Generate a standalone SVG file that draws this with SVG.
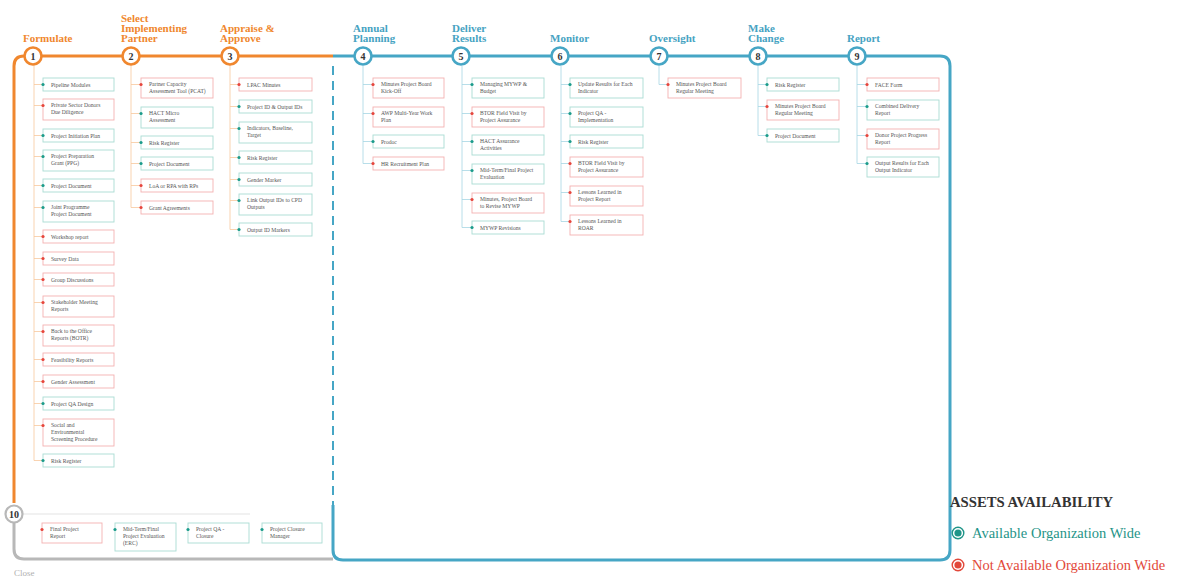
<svg xmlns="http://www.w3.org/2000/svg" width="1198" height="578" viewBox="0 0 1198 578">
  <style>
    .bg { fill: #ffffff; }
    .bt rect, .br rect { fill: #ffffff; stroke-width: 0.9; }
    .bt rect { stroke: #a9dbd3; }
    .br rect { stroke: #f3b1b1; }
    .bt circle { fill: #1b9b8b; }
    .br circle { fill: #e6453c; }
    .bt text, .br text { font-family: "Liberation Serif", serif; font-size: 5.6px; fill: #555555; }
    .stage { font-family: "Liberation Serif", serif; font-size: 11px; font-weight: bold; }
    .so { fill: #f0872e; }
    .st { fill: #46a3c2; }
    .node-o circle { fill: #ffffff; stroke: #f0872e; stroke-width: 2.6; }
    .node-t circle { fill: #ffffff; stroke: #46a6c5; stroke-width: 2.6; }
    .node-g circle { fill: #ffffff; stroke: #b8b8b8; stroke-width: 2.2; }
    .num { font-family: "Liberation Serif", serif; font-size: 10px; font-weight: bold; fill: #333333; text-anchor: middle; }
    .tree-o { fill: none; stroke: #f7c89d; stroke-width: 0.8; }
    .tree-t { fill: none; stroke: #a6d5e3; stroke-width: 0.8; }
    .legend-title { font-family: "Liberation Serif", serif; font-size: 14.7px; font-weight: bold; fill: #333333; }
    .legend-a { font-family: "Liberation Serif", serif; font-size: 14.5px; fill: #1f9488; }
    .legend-n { font-family: "Liberation Serif", serif; font-size: 14.5px; fill: #e2483a; }
  </style>

  <rect class="bg" x="0" y="0" width="1198" height="578"/>

  <!-- timeline rails and branch lines -->
  <g id="connectors">
    <path d="M14,503 V66 Q14,56 24,56 H333" fill="none" stroke="#f0872e" stroke-width="3"/>
    <path d="M333,56 H940 Q950,56 950,66 V550 Q950,560 940,560 H343 Q333,560 333,550 V505" fill="none" stroke="#46a6c5" stroke-width="3"/>
    <path d="M333,66 V505" fill="none" stroke="#46a6c5" stroke-width="2" stroke-dasharray="9 6"/>
    <path d="M14,522 V549 Q14,559 24,559 H333" fill="none" stroke="#b8b8b8" stroke-width="3"/>
    <path d="M23,514 H250" fill="none" stroke="#e3e3e3" stroke-width="1"/>

    <!-- stage 1 -->
    <path class="tree-o" d="M34,65 V460.5 M34,84.5 H43 M34,105.5 H43 M34,135.5 H43 M34,156.5 H43 M34,185.5 H43 M34,207.5 H43 M34,236.5 H43 M34,258.5 H43 M34,279.5 H43 M34,302.5 H43 M34,331.5 H43 M34,359.5 H43 M34,381.5 H43 M34,403.5 H43 M34,425.5 H43 M34,460.5 H43"/>
    <!-- stage 2 -->
    <path class="tree-o" d="M131,65 V207.5 M131,84.5 H141 M131,113.5 H141 M131,142.5 H141 M131,163.5 H141 M131,185.5 H141 M131,207.5 H141"/>
    <!-- stage 3 -->
    <path class="tree-o" d="M230,65 V229.5 M230,84.5 H239 M230,106.5 H239 M230,128.5 H239 M230,157.5 H239 M230,179.5 H239 M230,200.5 H239 M230,229.5 H239"/>
    <!-- stage 4 -->
    <path class="tree-t" d="M363,66 V163.5 M363,84.5 H373 M363,113.5 H373 M363,141.5 H373 M363,163.5 H373"/>
    <!-- stage 5 -->
    <path class="tree-t" d="M462,66 V227.5 M462,84.5 H472 M462,113.5 H472 M462,141.5 H472 M462,170.5 H472 M462,199.5 H472 M462,227.5 H472"/>
    <!-- stage 6 -->
    <path class="tree-t" d="M561,66 V221.5 M561,84.5 H570 M561,113.5 H570 M561,141.5 H570 M561,163.5 H570 M561,192.5 H570 M561,221.5 H570"/>
    <!-- stage 7 -->
    <path class="tree-t" d="M659,66 V84.5 H668"/>
    <!-- stage 8 -->
    <path class="tree-t" d="M758,66 V135.5 M758,84.5 H767 M758,106.5 H767 M758,135.5 H767"/>
    <!-- stage 9 -->
    <path class="tree-t" d="M857,66 V163.5 M857,84.5 H867 M857,106.5 H867 M857,135.5 H867 M857,163.5 H867"/>
  </g>

  <!-- stage headings -->
  <g id="headings">
    <text class="stage so" x="23" y="42">Formulate</text>
    <text class="stage so" x="121" y="22">Select</text>
    <text class="stage so" x="121" y="32">Implementing</text>
    <text class="stage so" x="121" y="42">Partner</text>
    <text class="stage so" x="220" y="32">Appraise &amp;</text>
    <text class="stage so" x="220" y="42">Approve</text>
    <text class="stage st" x="353" y="32">Annual</text>
    <text class="stage st" x="353" y="42">Planning</text>
    <text class="stage st" x="452" y="32">Deliver</text>
    <text class="stage st" x="452" y="42">Results</text>
    <text class="stage st" x="550" y="42">Monitor</text>
    <text class="stage st" x="649" y="42">Oversight</text>
    <text class="stage st" x="748" y="32">Make</text>
    <text class="stage st" x="748" y="42">Change</text>
    <text class="stage st" x="847" y="42">Report</text>
    <text x="14" y="576" font-family="Liberation Serif, serif" font-size="9" fill="#b0b0b0">Close</text>
  </g>

  <!-- stage markers -->
  <g id="stage-1" class="node-o"><circle cx="33" cy="56" r="8.5"/><text class="num" x="33" y="59.5">1</text></g>
  <g id="stage-2" class="node-o"><circle cx="131" cy="56" r="8.5"/><text class="num" x="131" y="59.5">2</text></g>
  <g id="stage-3" class="node-o"><circle cx="230" cy="56" r="8.5"/><text class="num" x="230" y="59.5">3</text></g>
  <g id="stage-4" class="node-t"><circle cx="363" cy="56" r="8.5"/><text class="num" x="363" y="59.5">4</text></g>
  <g id="stage-5" class="node-t"><circle cx="461" cy="56" r="8.5"/><text class="num" x="461" y="59.5">5</text></g>
  <g id="stage-6" class="node-t"><circle cx="560" cy="56" r="8.5"/><text class="num" x="560" y="59.5">6</text></g>
  <g id="stage-7" class="node-t"><circle cx="659" cy="56" r="8.5"/><text class="num" x="659" y="59.5">7</text></g>
  <g id="stage-8" class="node-t"><circle cx="758" cy="56" r="8.5"/><text class="num" x="758" y="59.5">8</text></g>
  <g id="stage-9" class="node-t"><circle cx="857" cy="56" r="8.5"/><text class="num" x="857" y="59.5">9</text></g>
  <g id="stage-10" class="node-g"><circle cx="14" cy="514" r="8.5"/><text class="num" x="14" y="517.5">10</text></g>

  <!-- stage 1: Formulate -->
  <g id="s1-pipeline" class="bt"><rect x="43" y="78" width="71" height="13"/><circle cx="43" cy="84.5" r="1.6"/><text x="51" y="86.5">Pipeline Modules</text></g>
  <g id="s1-donors" class="br"><rect x="43" y="99" width="71" height="21"/><circle cx="43" cy="105.5" r="1.6"/><text x="51" y="107">Private Sector Donors</text><text x="51" y="114">Due Diligence</text></g>
  <g id="s1-initiation" class="bt"><rect x="43" y="129" width="71" height="13"/><circle cx="43" cy="135.5" r="1.6"/><text x="51" y="137.5">Project Initiation Plan</text></g>
  <g id="s1-ppg" class="bt"><rect x="43" y="150" width="71" height="21"/><circle cx="43" cy="156.5" r="1.6"/><text x="51" y="158">Project Preparation</text><text x="51" y="165">Grant (PPG)</text></g>
  <g id="s1-prodoc" class="bt"><rect x="43" y="179" width="71" height="13"/><circle cx="43" cy="185.5" r="1.6"/><text x="51" y="187.5">Project Document</text></g>
  <g id="s1-joint" class="bt"><rect x="43" y="201" width="71" height="21"/><circle cx="43" cy="207.5" r="1.6"/><text x="51" y="209">Joint Programme</text><text x="51" y="216">Project Document</text></g>
  <g id="s1-workshop" class="br"><rect x="43" y="230" width="71" height="13"/><circle cx="43" cy="236.5" r="1.6"/><text x="51" y="238.5">Workshop report</text></g>
  <g id="s1-survey" class="br"><rect x="43" y="252" width="71" height="13"/><circle cx="43" cy="258.5" r="1.6"/><text x="51" y="260.5">Survey Data</text></g>
  <g id="s1-group" class="br"><rect x="43" y="273" width="71" height="13"/><circle cx="43" cy="279.5" r="1.6"/><text x="51" y="281.5">Group Discussions</text></g>
  <g id="s1-stakeholder" class="br"><rect x="43" y="296" width="71" height="21"/><circle cx="43" cy="302.5" r="1.6"/><text x="51" y="304">Stakeholder Meeting</text><text x="51" y="311">Reports</text></g>
  <g id="s1-botr" class="br"><rect x="43" y="325" width="71" height="21"/><circle cx="43" cy="331.5" r="1.6"/><text x="51" y="333">Back to the Office</text><text x="51" y="340">Reports (BOTR)</text></g>
  <g id="s1-feasibility" class="br"><rect x="43" y="353" width="71" height="13"/><circle cx="43" cy="359.5" r="1.6"/><text x="51" y="361.5">Feasibility Reports</text></g>
  <g id="s1-gender" class="br"><rect x="43" y="375" width="71" height="13"/><circle cx="43" cy="381.5" r="1.6"/><text x="51" y="383.5">Gender Assessment</text></g>
  <g id="s1-qa" class="bt"><rect x="43" y="397" width="71" height="13"/><circle cx="43" cy="403.5" r="1.6"/><text x="51" y="405.5">Project QA Design</text></g>
  <g id="s1-sesp" class="br"><rect x="43" y="419" width="71" height="27"/><circle cx="43" cy="425.5" r="1.6"/><text x="51" y="427">Social and</text><text x="51" y="434">Environmental</text><text x="51" y="441">Screening Procedure</text></g>
  <g id="s1-risk" class="bt"><rect x="43" y="454" width="71" height="13"/><circle cx="43" cy="460.5" r="1.6"/><text x="51" y="462.5">Risk Register</text></g>

  <!-- stage 2: Select Implementing Partner -->
  <g id="s2-pcat" class="br"><rect x="141" y="78" width="72" height="20"/><circle cx="141" cy="84.5" r="1.6"/><text x="149" y="86">Partner Capacity</text><text x="149" y="93">Assessment Tool (PCAT)</text></g>
  <g id="s2-hact" class="bt"><rect x="141" y="107" width="72" height="21"/><circle cx="141" cy="113.5" r="1.6"/><text x="149" y="115">HACT Micro</text><text x="149" y="122">Assessment</text></g>
  <g id="s2-risk" class="bt"><rect x="141" y="136" width="72" height="13"/><circle cx="141" cy="142.5" r="1.6"/><text x="149" y="144.5">Risk Register</text></g>
  <g id="s2-prodoc" class="bt"><rect x="141" y="157" width="72" height="13"/><circle cx="141" cy="163.5" r="1.6"/><text x="149" y="165.5">Project Document</text></g>
  <g id="s2-loa" class="br"><rect x="141" y="179" width="72" height="13"/><circle cx="141" cy="185.5" r="1.6"/><text x="149" y="187.5">LoA or RPA with RPs</text></g>
  <g id="s2-grant" class="br"><rect x="141" y="201" width="72" height="13"/><circle cx="141" cy="207.5" r="1.6"/><text x="149" y="209.5">Grant Agreements</text></g>

  <!-- stage 3: Appraise & Approve -->
  <g id="s3-lpac" class="br"><rect x="239" y="78" width="73" height="13"/><circle cx="239" cy="84.5" r="1.6"/><text x="247" y="86.5">LPAC Minutes</text></g>
  <g id="s3-ids" class="bt"><rect x="239" y="100" width="73" height="13"/><circle cx="239" cy="106.5" r="1.6"/><text x="247" y="108.5">Project ID &amp; Output IDs</text></g>
  <g id="s3-indicators" class="bt"><rect x="239" y="122" width="73" height="21"/><circle cx="239" cy="128.5" r="1.6"/><text x="247" y="130">Indicators, Baseline,</text><text x="247" y="137">Target</text></g>
  <g id="s3-risk" class="bt"><rect x="239" y="151" width="73" height="13"/><circle cx="239" cy="157.5" r="1.6"/><text x="247" y="159.5">Risk Register</text></g>
  <g id="s3-gender" class="bt"><rect x="239" y="173" width="73" height="13"/><circle cx="239" cy="179.5" r="1.6"/><text x="247" y="181.5">Gender Marker</text></g>
  <g id="s3-link" class="bt"><rect x="239" y="194" width="73" height="21"/><circle cx="239" cy="200.5" r="1.6"/><text x="247" y="202">Link Output IDs to CPD</text><text x="247" y="209">Outputs</text></g>
  <g id="s3-markers" class="bt"><rect x="239" y="223" width="73" height="13"/><circle cx="239" cy="229.5" r="1.6"/><text x="247" y="231.5">Output ID Markers</text></g>

  <!-- stage 4: Annual Planning -->
  <g id="s4-kickoff" class="br"><rect x="373" y="78" width="71" height="20"/><circle cx="373" cy="84.5" r="1.6"/><text x="381" y="86">Minutes Project Board</text><text x="381" y="93">Kick-Off</text></g>
  <g id="s4-awp" class="br"><rect x="373" y="107" width="71" height="20"/><circle cx="373" cy="113.5" r="1.6"/><text x="381" y="115">AWP Multi-Year Work</text><text x="381" y="122">Plan</text></g>
  <g id="s4-prodoc" class="bt"><rect x="373" y="135" width="71" height="13"/><circle cx="373" cy="141.5" r="1.6"/><text x="381" y="143.5">Prodoc</text></g>
  <g id="s4-hr" class="br"><rect x="373" y="157" width="71" height="13"/><circle cx="373" cy="163.5" r="1.6"/><text x="381" y="165.5">HR Recruitment Plan</text></g>

  <!-- stage 5: Deliver Results -->
  <g id="s5-mywp" class="bt"><rect x="472" y="78" width="72" height="20"/><circle cx="472" cy="84.5" r="1.6"/><text x="480" y="86">Managing MYWP &amp;</text><text x="480" y="93">Budget</text></g>
  <g id="s5-btor" class="br"><rect x="472" y="107" width="72" height="20"/><circle cx="472" cy="113.5" r="1.6"/><text x="480" y="115">BTOR Field Visit by</text><text x="480" y="122">Project Assurance</text></g>
  <g id="s5-hact" class="bt"><rect x="472" y="135" width="72" height="20"/><circle cx="472" cy="141.5" r="1.6"/><text x="480" y="143">HACT Assurance</text><text x="480" y="150">Activities</text></g>
  <g id="s5-eval" class="bt"><rect x="472" y="164" width="72" height="20"/><circle cx="472" cy="170.5" r="1.6"/><text x="480" y="172">Mid-Term/Final Project</text><text x="480" y="179">Evaluation</text></g>
  <g id="s5-revise" class="br"><rect x="472" y="193" width="72" height="20"/><circle cx="472" cy="199.5" r="1.6"/><text x="480" y="201">Minutes, Project Board</text><text x="480" y="208">to Revise MYWP</text></g>
  <g id="s5-revisions" class="bt"><rect x="472" y="221" width="72" height="13"/><circle cx="472" cy="227.5" r="1.6"/><text x="480" y="229.5">MYWP Revisions</text></g>

  <!-- stage 6: Monitor -->
  <g id="s6-results" class="bt"><rect x="570" y="78" width="73" height="20"/><circle cx="570" cy="84.5" r="1.6"/><text x="578" y="86">Update Results for Each</text><text x="578" y="93">Indicator</text></g>
  <g id="s6-qa" class="bt"><rect x="570" y="107" width="73" height="20"/><circle cx="570" cy="113.5" r="1.6"/><text x="578" y="115">Project QA -</text><text x="578" y="122">Implementation</text></g>
  <g id="s6-risk" class="bt"><rect x="570" y="135" width="73" height="13"/><circle cx="570" cy="141.5" r="1.6"/><text x="578" y="143.5">Risk Register</text></g>
  <g id="s6-btor" class="br"><rect x="570" y="157" width="73" height="20"/><circle cx="570" cy="163.5" r="1.6"/><text x="578" y="165">BTOR Field Visit by</text><text x="578" y="172">Project Assurance</text></g>
  <g id="s6-lessons-report" class="br"><rect x="570" y="186" width="73" height="20"/><circle cx="570" cy="192.5" r="1.6"/><text x="578" y="194">Lessons Learned in</text><text x="578" y="201">Project Report</text></g>
  <g id="s6-lessons-roar" class="br"><rect x="570" y="215" width="73" height="20"/><circle cx="570" cy="221.5" r="1.6"/><text x="578" y="223">Lessons Learned in</text><text x="578" y="230">ROAR</text></g>

  <!-- stage 7: Oversight -->
  <g id="s7-minutes" class="br"><rect x="668" y="78" width="73" height="20"/><circle cx="668" cy="84.5" r="1.6"/><text x="676" y="86">Minutes Project Board</text><text x="676" y="93">Regular Meeting</text></g>

  <!-- stage 8: Make Change -->
  <g id="s8-risk" class="bt"><rect x="767" y="78" width="72" height="13"/><circle cx="767" cy="84.5" r="1.6"/><text x="775" y="86.5">Risk Register</text></g>
  <g id="s8-minutes" class="br"><rect x="767" y="100" width="72" height="20"/><circle cx="767" cy="106.5" r="1.6"/><text x="775" y="108">Minutes Project Board</text><text x="775" y="115">Regular Meeting</text></g>
  <g id="s8-prodoc" class="bt"><rect x="767" y="129" width="72" height="13"/><circle cx="767" cy="135.5" r="1.6"/><text x="775" y="137.5">Project Document</text></g>

  <!-- stage 9: Report -->
  <g id="s9-face" class="br"><rect x="867" y="78" width="72" height="13"/><circle cx="867" cy="84.5" r="1.6"/><text x="875" y="86.5">FACE Form</text></g>
  <g id="s9-cdr" class="bt"><rect x="867" y="100" width="72" height="20"/><circle cx="867" cy="106.5" r="1.6"/><text x="875" y="108">Combined Delivery</text><text x="875" y="115">Report</text></g>
  <g id="s9-donor" class="br"><rect x="867" y="129" width="72" height="20"/><circle cx="867" cy="135.5" r="1.6"/><text x="875" y="137">Donor Project Progress</text><text x="875" y="144">Report</text></g>
  <g id="s9-output" class="bt"><rect x="867" y="157" width="72" height="20"/><circle cx="867" cy="163.5" r="1.6"/><text x="875" y="165">Output Results for Each</text><text x="875" y="172">Output Indicator</text></g>

  <!-- stage 10: Close -->
  <g id="s10-final" class="br"><rect x="42" y="523" width="60" height="20"/><circle cx="42" cy="529.5" r="1.6"/><text x="50" y="531">Final Project</text><text x="50" y="538">Report</text></g>
  <g id="s10-erc" class="bt"><rect x="115" y="523" width="61" height="28"/><circle cx="115" cy="529.5" r="1.6"/><text x="123" y="531">Mid-Term/Final</text><text x="123" y="538">Project Evaluation</text><text x="123" y="545">(ERC)</text></g>
  <g id="s10-qa" class="bt"><rect x="188" y="523" width="61" height="20"/><circle cx="188" cy="529.5" r="1.6"/><text x="196" y="531">Project QA -</text><text x="196" y="538">Closure</text></g>
  <g id="s10-manager" class="bt"><rect x="262" y="523" width="60" height="20"/><circle cx="262" cy="529.5" r="1.6"/><text x="270" y="531">Project Closure</text><text x="270" y="538">Manager</text></g>

  <!-- legend -->
  <g id="legend">
    <text class="legend-title" x="950" y="507">ASSETS AVAILABILITY</text>
    <circle cx="958" cy="533" r="5.8" fill="#ffffff" stroke="#1f9488" stroke-width="1.4"/>
    <circle cx="958" cy="533" r="3.6" fill="#1f9488"/>
    <text class="legend-a" x="972" y="538">Available Organization Wide</text>
    <circle cx="958" cy="565" r="5.8" fill="#ffffff" stroke="#e2483a" stroke-width="1.4"/>
    <circle cx="958" cy="565" r="3.6" fill="#e2483a"/>
    <text class="legend-n" x="972" y="570">Not Available Organization Wide</text>
  </g>
</svg>
